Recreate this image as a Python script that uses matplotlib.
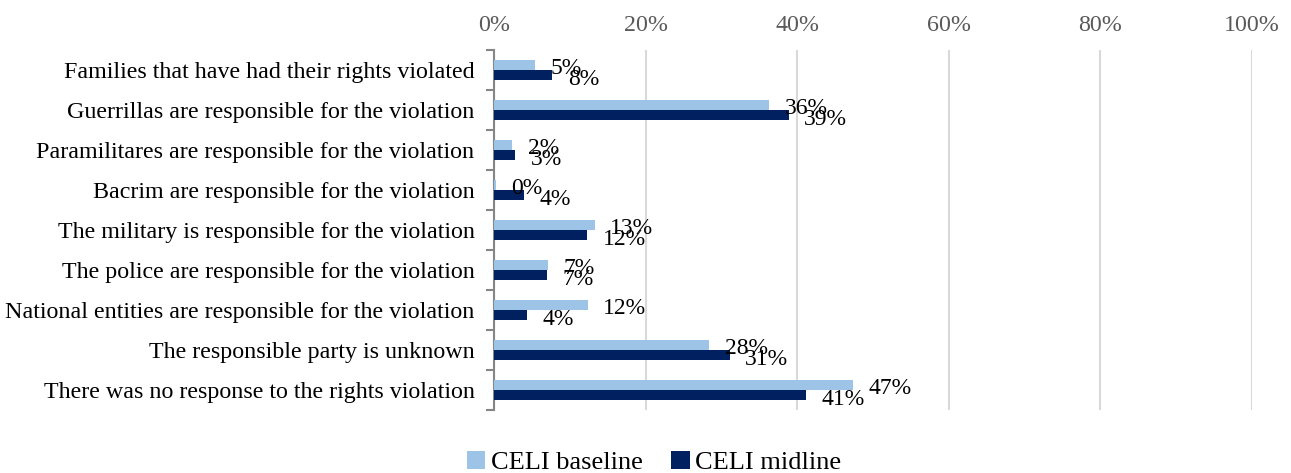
import matplotlib.pyplot as plt
import numpy as np

plt.rcParams['font.family'] = ['Liberation Serif', 'DejaVu Serif']

categories = [
    'Families that have had their rights violated',
    'Guerrillas are responsible for the violation',
    'Paramilitares are responsible for the violation',
    'Bacrim are responsible for the violation',
    'The military is responsible for the violation',
    'The police are responsible for the violation',
    'National entities are responsible for the violation',
    'The responsible party is unknown',
    'There was no response to the rights violation',
]
baseline = [0.054, 0.363, 0.024, 0.002, 0.133, 0.071, 0.124, 0.284, 0.474]
midline = [0.077, 0.389, 0.028, 0.040, 0.123, 0.070, 0.044, 0.311, 0.412]

c_base = '#9DC3E6'
c_mid = '#002060'

fig = plt.figure(figsize=(12.91, 4.73), dpi=100)
ax = fig.add_axes([0.3827, 0.1332, 0.5871, 0.7611])

y = np.arange(len(categories))
h = 0.24
ax.barh(y - h / 2, baseline, height=h, color=c_base, label='CELI baseline', zorder=3)
ax.barh(y + h / 2, midline, height=h, color=c_mid, label='CELI midline', zorder=3)

# value labels just past the bar ends
for i in range(len(categories)):
    ax.annotate(f'{baseline[i]:.0%}', (baseline[i], y[i] - h / 2), xytext=(11, -2.5),
                textcoords='offset points', va='center', ha='left', fontsize=17, color='black')
    ax.annotate(f'{midline[i]:.0%}', (midline[i], y[i] + h / 2), xytext=(11, -3.5),
                textcoords='offset points', va='center', ha='left', fontsize=17, color='black')

ax.set_xlim(0, 1)
ax.set_ylim(len(categories) - 0.5, -0.5)
ax.set_xticks(np.arange(0, 1.01, 0.2))
ax.set_xticklabels([f'{int(v * 100)}%' for v in np.arange(0, 1.01, 0.2)])
ax.xaxis.tick_top()
ax.tick_params(axis='x', length=0, pad=10, labelsize=17.3, labelcolor='#595959')
ax.grid(axis='x', color='#D9D9D9', linewidth=1.5, zorder=0)

ax.set_yticks(y)
ax.set_yticklabels(categories)
ax.set_yticks(np.arange(-0.5, len(categories)), minor=True)
ax.tick_params(axis='y', which='major', length=0, pad=14, labelsize=17.3)
ax.tick_params(axis='y', which='minor', length=6, width=1.5, color='#868686')

for s in ['top', 'right', 'bottom']:
    ax.spines[s].set_visible(False)
ax.spines['left'].set_color('#868686')
ax.spines['left'].set_linewidth(1.5)

fig.legend(loc='center', bbox_to_anchor=(0.5066, 0.022), ncol=2, frameon=False,
           fontsize=19, handlelength=0.7, handleheight=0.7, handletextpad=0.2,
           columnspacing=1.1)

fig.savefig('out.png', dpi=100)
